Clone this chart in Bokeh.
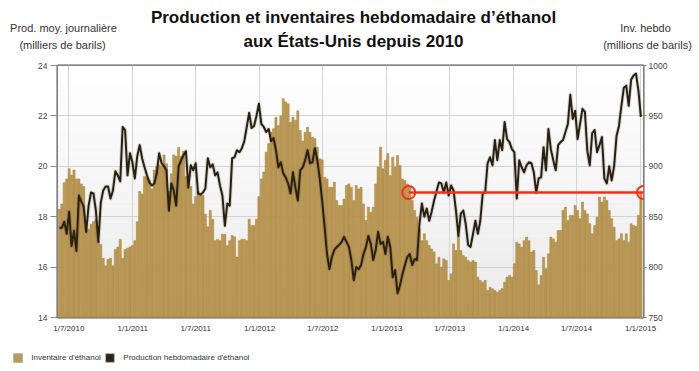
import datetime as dt
from bokeh.plotting import figure
from bokeh.layouts import column
from bokeh.models import (Range1d, LinearAxis, FixedTicker, Label, Legend, LegendItem,
                          ColumnDataSource)
from bokeh.embed import file_html
from bokeh.resources import INLINE

# ---------------- data ----------------
first_week = dt.datetime(2010, 6, 4)

# weekly ethanol inventory (millions of barrels) - bars, left scale
inventory = [
    18.3, 18.5, 19.35, 19.5, 19.9, 19.65, 19.85, 19.5, 19.5, 19.3,
    19.2, 17.6, 17.5, 17.7, 17.8, 17.9, 17.05, 16.9, 16.35, 16.05,
    16.3, 16.35, 16.05, 16.7, 16.8, 17.1, 16.35, 16.7, 16.75, 16.8,
    16.85, 17.05, 17.8, 19.0, 18.9, 19.6, 19.55, 19.45, 19.1, 19.85,
    20.0, 20.05, 20.0, 20.45, 20.1, 19.0, 19.7, 20.45, 20.4, 20.75,
    20.4, 20.6, 19.6, 19.45, 19.2, 18.5, 18.8, 19.0, 18.85, 18.85,
    18.1, 17.6, 18.25, 17.9, 17.05, 17.1, 17.05, 17.3, 17.3, 16.85,
    17.05, 17.25, 17.2, 16.4, 17.05, 17.1, 17.1, 17.05, 17.9, 17.65,
    17.65, 17.9, 18.8, 19.5, 19.77, 20.56, 20.9, 21.35, 21.49, 21.95,
    21.62, 22.0, 22.68, 22.55, 22.48, 21.75, 21.95, 21.82, 22.2, 21.42,
    21.0, 21.35, 21.55, 21.35, 21.15, 21.1, 20.76, 20.3, 20.26, 19.57,
    19.5, 19.17, 19.17, 19.37, 18.64, 18.44, 18.44, 18.7, 19.24, 19.3,
    19.17, 18.64, 19.24, 19.1, 19.17, 18.5, 17.85, 18.38, 18.18, 18.38,
    19.3, 19.97, 20.76, 19.9, 20.23, 20.5, 19.63, 20.36, 19.97, 20.43,
    20.03, 19.5, 19.44, 19.3, 19.17, 18.64, 18.25, 17.98, 17.52, 17.05,
    17.32, 17.05, 16.86, 16.72, 16.6, 16.13, 16.39, 16.0, 16.33, 16.26,
    15.47, 15.73, 16.92, 16.66, 17.25, 16.66, 16.46, 16.39, 16.26, 16.2,
    16.26, 16.2, 15.6, 15.47, 15.4, 15.47, 15.07, 15.2, 15.14, 15.07,
    15.0, 15.07, 15.14, 15.4, 15.6, 15.67, 15.6, 16.13, 16.99, 16.92,
    16.79, 17.05, 17.19, 17.05, 16.6, 16.66, 15.87, 15.3, 15.67, 16.39,
    15.93, 16.53, 17.19, 17.12, 16.99, 17.45, 17.45, 18.25, 18.38, 17.85,
    18.05, 18.05, 18.44, 18.25, 17.92, 18.58, 18.25, 18.11, 17.72, 17.32,
    17.65, 17.98, 18.78, 18.58, 18.78, 18.64, 18.25, 17.92, 17.58, 17.05,
    17.12, 17.32, 17.05, 17.32, 16.99, 17.72, 17.65, 17.62, 18.05, 18.95,
]

# weekly ethanol production (thousand barrels/day) - line, right scale
production = [
    839, 839, 845, 833, 855, 821, 836, 816, 871, 865,
    860, 835, 861, 874, 873, 856, 825, 864, 876, 880,
    880, 868, 876, 895, 891, 885, 939, 936, 891, 913,
    904, 888, 910, 921, 908, 899, 891, 884, 881, 883,
    893, 913, 903, 900, 896, 856, 883, 876, 861, 900,
    906, 911, 915, 879, 901, 896, 903, 873, 872, 874,
    878, 908, 899, 902, 891, 894, 881, 871, 841, 863,
    861, 908, 909, 916, 914, 918, 925, 939, 953, 938,
    940, 950, 962, 942, 939, 934, 937, 925, 928, 916,
    899, 904, 893, 889, 883, 873, 894, 879, 866, 896,
    899, 906, 916, 903, 904, 918, 906, 888, 866, 840,
    813, 798, 810, 817, 820, 822, 825, 830, 825, 820,
    807, 787, 800, 798, 802, 813, 820, 831, 823, 807,
    817, 835, 823, 825, 813, 830, 820, 790, 797, 774,
    782, 793, 802, 810, 813, 802, 808, 807, 843, 863,
    850, 858, 846, 855, 866, 875, 884, 883, 874, 884,
    871, 881, 876, 856, 831, 853, 856, 843, 822, 820,
    833, 846, 833, 846, 873, 874, 903, 909, 901, 926,
    906, 926, 916, 944, 927, 924, 917, 914, 868, 906,
    899, 894, 901, 904, 903, 894, 874, 888, 889, 919,
    896, 937, 917, 906, 896, 921, 924, 926, 934, 942,
    971, 947, 955, 927, 942, 957, 954, 915, 901, 933,
    936, 914, 921, 929, 888, 883, 900, 886, 900, 930,
    940, 960, 978, 980, 960, 986, 990, 992, 975, 949,
]

tick_dates = ["2010-07-01", "2011-01-01", "2011-07-01", "2012-01-01", "2012-07-01",
              "2013-01-01", "2013-07-01", "2014-01-01", "2014-07-01", "2015-01-01"]
tick_labels = ["1/7/2010", "1/1/2011", "1/7/2011", "1/1/2012", "1/7/2012",
               "1/1/2013", "1/7/2013", "1/1/2014", "1/7/2014", "1/1/2015"]
left_ticks = [14, 16, 18, 20, 22, 24]
right_ticks = [750, 800, 850, 900, 950, 1000]

ref_level = 874            # red reference level on the production scale
ref_start = "2013-03-05"

series_names = ["Inventaire d'éthanol", "Production hebdomadaire d'éthanol"]
series_colors = ["#bc9a56", "#2e2411"]
title_lines = ["Production et inventaires hebdomadaire d’éthanol", "aux États-Unis depuis 2010"]
left_title = ["Prod. moy. journalière", "(milliers de barils)"]
right_title = ["Inv. hebdo", "(millions de barils)"]

# ---------------- helpers ----------------
EPOCH = dt.datetime(1970, 1, 1)
def ms(d):
    if isinstance(d, str):
        d = dt.datetime.strptime(d, "%Y-%m-%d")
    return (d - EPOCH).total_seconds() * 1000.0

DAY = 86400000.0
weeks = [first_week + dt.timedelta(days=7 * i) for i in range(len(inventory))]
src = ColumnDataSource(dict(date=[ms(w) for w in weeks], inv=inventory, prod=production))

x_start = ms(dt.datetime(2010, 5, 29, 12))
x_end = ms(dt.datetime(2015, 1, 9, 14))

FONT = "Liberation Sans, Arial, Helvetica, sans-serif"
W = 692

def blank(h):
    f = figure(width=W, height=h, x_range=Range1d(0, W), y_range=Range1d(0, h),
               output_backend="svg", toolbar_location=None,
               x_axis_location=None, y_axis_location=None,
               min_border_left=0, min_border_right=0, min_border_top=0, min_border_bottom=0)
    f.grid.visible = False
    f.outline_line_color = None
    f.background_fill_color = "white"
    f.border_fill_color = "white"
    try:
        f.frame_align = False
    except Exception:
        pass
    return f

# ---------------- header (titles) ----------------
head = blank(57)
def lab(fig, x, y, text, size, bold=False, color="#333333", align="center"):
    fig.add_layout(Label(x=x, y=y, text=text, text_align=align, text_baseline="middle",
                         text_font_size=size, text_font=FONT,
                         text_font_style="bold" if bold else "normal", text_color=color))

lab(head, 353, 40, title_lines[0], "17px", True, "#111111")
lab(head, 353, 16, title_lines[1], "17px", True, "#111111")
lab(head, 63, 29.5, left_title[0], "11px")
lab(head, 62, 12.5, left_title[1], "11px")
lab(head, 645, 30, right_title[0], "11px")
lab(head, 647, 12.5, right_title[1], "11px")

# ---------------- main plot ----------------
p = figure(width=W, height=283, x_axis_type="datetime",
           x_range=Range1d(x_start, x_end), y_range=Range1d(14, 24),
           output_backend="svg", toolbar_location=None,
           min_border_left=57, min_border_right=W - 643, min_border_top=8, min_border_bottom=23)
p.extra_y_ranges = {"prod": Range1d(750, 1000)}
p.background_fill_color = "white"
p.border_fill_color = "white"
p.outline_line_color = "#5a5a5a"
p.outline_line_width = 2

# background gradient of plot area
nb = 50
bands = dict(bottom=[14 + 10 * k / nb for k in range(nb)],
             top=[14 + 10 * (k + 1) / nb for k in range(nb)],
             color=[])
for k in range(nb):
    t = k / (nb - 1)
    g = int(round(234 + (255 - 234) * t))
    bands["color"].append("#%02x%02x%02x" % (g, g, g))
bands["left"] = [x_start] * nb
bands["right"] = [x_end] * nb
p.quad(left="left", right="right", bottom="bottom", top="top", fill_color="color",
       line_color=None, source=ColumnDataSource(bands), level="image")

# bars
p.vbar(x="date", top="inv", bottom=0, width=6 * DAY, source=src,
       fill_color=series_colors[0], line_color="#a47e34", line_width=0.5)

# production line with soft shadow
p.line(x="date", y="prod", source=src, y_range_name="prod",
       line_color="#2a2010", line_width=4, line_alpha=0.15, line_join="round")
p.line(x="date", y="prod", source=src, y_range_name="prod",
       line_color="#2a2010", line_width=2, line_join="round")

# red reference line + circles
p.segment(x0=[ms(ref_start)], y0=[ref_level], x1=[x_end], y1=[ref_level],
          y_range_name="prod", line_color="#ff2a14", line_width=2.5)
p.scatter(x=[ms(ref_start), x_end], y=[ref_level, ref_level], y_range_name="prod",
          marker="circle", size=13, fill_alpha=0, line_color="#ff2a14", line_width=2)

# axes
tick_ms = [int(ms(d)) for d in tick_dates]
xa = p.xaxis[0]
xa.ticker = FixedTicker(ticks=tick_ms)
xa.major_label_overrides = {t: l for t, l in zip(tick_ms, tick_labels)}
xa.axis_line_color = None
xa.major_tick_out = 0
xa.major_tick_in = 0
xa.minor_tick_out = 0
xa.minor_tick_in = 0
xa.major_label_standoff = 6
xa.major_label_text_font_size = "8px"
xa.major_label_text_color = "#333333"
xa.major_label_text_font = FONT

ya = p.yaxis[0]
ya.ticker = FixedTicker(ticks=left_ticks)
ra = LinearAxis(y_range_name="prod", ticker=FixedTicker(ticks=right_ticks))
p.add_layout(ra, "right")
for ax, tout, stand in ((ya, 7, 3), (ra, 3, 2)):
    ax.axis_line_color = None
    ax.major_tick_out = tout
    ax.major_tick_in = 0
    ax.minor_tick_out = 0
    ax.minor_tick_in = 0
    ax.major_tick_line_color = "#888888"
    ax.major_label_standoff = stand
    ax.major_label_text_font_size = "8.5px"
    ax.major_label_text_color = "#444444"
    ax.major_label_text_font = FONT

p.xgrid.ticker = FixedTicker(ticks=tick_ms)
p.xgrid.grid_line_color = "#d4d4d4"
p.ygrid.grid_line_color = "#d4d4d4"

# ---------------- footer (legend) ----------------
foot = blank(31)
# legend swatch helpers: one off-screen square each, only shown through the legend
sw = [foot.quad(left=[-20], right=[-10], top=[-10], bottom=[-20], fill_color=c,
                line_color="#b4b4b4") for c in series_colors]
for name, r, xpos in zip(series_names, sw, (12.3, 104.3)):
    foot.add_layout(Legend(items=[LegendItem(label=name, renderers=[r])],
                           location=(xpos, 8.3), orientation="horizontal",
                           glyph_width=11, glyph_height=11, label_standoff=8,
                           padding=0, margin=0, border_line_color=None,
                           background_fill_alpha=0, label_text_font_size="8px",
                           label_text_color="#333333", label_text_font=FONT,
                           label_height=11), "center")

layout = column(head, p, foot, spacing=0)
open("out.html", "w").write(file_html(layout, INLINE))
